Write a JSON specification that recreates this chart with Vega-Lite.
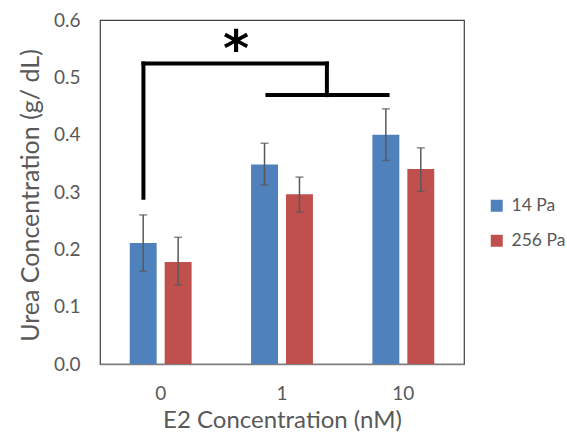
{
  "$schema": "https://vega.github.io/schema/vega-lite/v6.json",
  "autosize": "none",
  "width": 364,
  "height": 344,
  "padding": {"left": 100, "top": 20, "right": 103, "bottom": 70},
  "background": "white",
  "config": {
    "font": "Lato",
    "view": {"stroke": "#404040", "strokeWidth": 1.2},
    "axis": {"grid": false, "ticks": false, "labelColor": "#595959", "titleColor": "#595959", "titleFontWeight": "normal", "domainColor": "#808080"}
  },
  "datasets": {
    "bars": [
      {"conc": "0", "group": "14 Pa", "value": 0.211, "lo": 0.162, "hi": 0.260},
      {"conc": "0", "group": "256 Pa", "value": 0.178, "lo": 0.138, "hi": 0.221},
      {"conc": "1", "group": "14 Pa", "value": 0.348, "lo": 0.312, "hi": 0.385},
      {"conc": "1", "group": "256 Pa", "value": 0.296, "lo": 0.265, "hi": 0.326},
      {"conc": "10", "group": "14 Pa", "value": 0.400, "lo": 0.355, "hi": 0.445},
      {"conc": "10", "group": "256 Pa", "value": 0.340, "lo": 0.301, "hi": 0.377}
    ],
    "bracket": [
      {"seg": "a", "x": 0.358, "y": 0.29, "x2": 0.358, "y2": 0.524},
      {"seg": "b", "x": 0.358, "y": 0.524, "x2": 1.87, "y2": 0.524},
      {"seg": "c", "x": 1.87, "y": 0.524, "x2": 1.87, "y2": 0.469},
      {"seg": "d", "x": 1.38, "y": 0.469, "x2": 2.37, "y2": 0.469}
    ],
    "star": [{"x": 1.121, "y": 0.545, "label": "*"}]
  },
  "layer": [
    {
      "data": {"name": "bars"},
      "layer": [
        {
          "mark": {"type": "bar"},
          "encoding": {
            "x": {"field": "conc", "type": "nominal", "sort": ["0", "1", "10"],
              "scale": {"paddingInner": 0.49, "paddingOuter": 0.245},
              "axis": {"title": "E2 Concentration (nM)", "labelAngle": 0, "labelFontSize": 19, "labelPadding": 20, "titleFontSize": 24, "titlePadding": 5, "domain": true, "domainWidth": 1.5}},
            "xOffset": {"field": "group", "type": "nominal", "scale": {"paddingInner": 0.229, "paddingOuter": 0}},
            "y": {"field": "value", "type": "quantitative",
              "scale": {"domain": [0, 0.6], "nice": false},
              "axis": {"title": "Urea Concentration (g/ dL)", "format": ".1f", "values": [0, 0.1, 0.2, 0.3, 0.4, 0.5, 0.6], "labelFontSize": 19, "labelPadding": 20, "titleFontSize": 25, "titlePadding": 10, "titleY": 175, "domain": false}},
            "color": {"field": "group", "type": "nominal",
              "scale": {"domain": ["14 Pa", "256 Pa"], "range": ["#4F81BD", "#C0504D"]},
              "legend": {"title": null, "orient": "none", "legendX": 388, "legendY": 177, "symbolType": "square", "symbolSize": 144, "labelFontSize": 17.5, "labelColor": "#595959", "rowPadding": 16, "labelOffset": 6, "symbolStrokeWidth": 0, "padding": 0}}
          }
        },
        {
          "mark": {"type": "rule", "color": "#595959", "strokeWidth": 1.5},
          "encoding": {
            "x": {"field": "conc", "type": "nominal", "sort": ["0", "1", "10"]},
            "xOffset": {"field": "group", "type": "nominal"},
            "y": {"field": "lo", "type": "quantitative"},
            "y2": {"field": "hi"}
          }
        },
        {
          "mark": {"type": "tick", "color": "#595959", "thickness": 1.5, "size": 8},
          "encoding": {
            "x": {"field": "conc", "type": "nominal", "sort": ["0", "1", "10"]},
            "xOffset": {"field": "group", "type": "nominal"},
            "y": {"field": "lo", "type": "quantitative"}
          }
        },
        {
          "mark": {"type": "tick", "color": "#595959", "thickness": 1.5, "size": 8},
          "encoding": {
            "x": {"field": "conc", "type": "nominal", "sort": ["0", "1", "10"]},
            "xOffset": {"field": "group", "type": "nominal"},
            "y": {"field": "hi", "type": "quantitative"}
          }
        }
      ]
    },
    {
      "data": {"name": "bracket"},
      "mark": {"type": "rule", "color": "black", "strokeWidth": 4, "strokeCap": "square"},
      "encoding": {
        "x": {"field": "x", "type": "quantitative", "scale": {"domain": [0, 3], "nice": false, "zero": false}, "axis": null},
        "x2": {"field": "x2"},
        "y": {"field": "y", "type": "quantitative"},
        "y2": {"field": "y2"}
      }
    },
    {
      "data": {"name": "star"},
      "mark": {"type": "text", "fontSize": 50, "fontWeight": "bold", "font": "DejaVu Sans", "baseline": "middle", "align": "center", "dy": -1},
      "encoding": {
        "x": {"field": "x", "type": "quantitative", "scale": {"domain": [0, 3], "nice": false, "zero": false}, "axis": null},
        "y": {"field": "y", "type": "quantitative"},
        "text": {"field": "label"}
      }
    }
  ],
  "resolve": {"scale": {"x": "independent"}}
}
